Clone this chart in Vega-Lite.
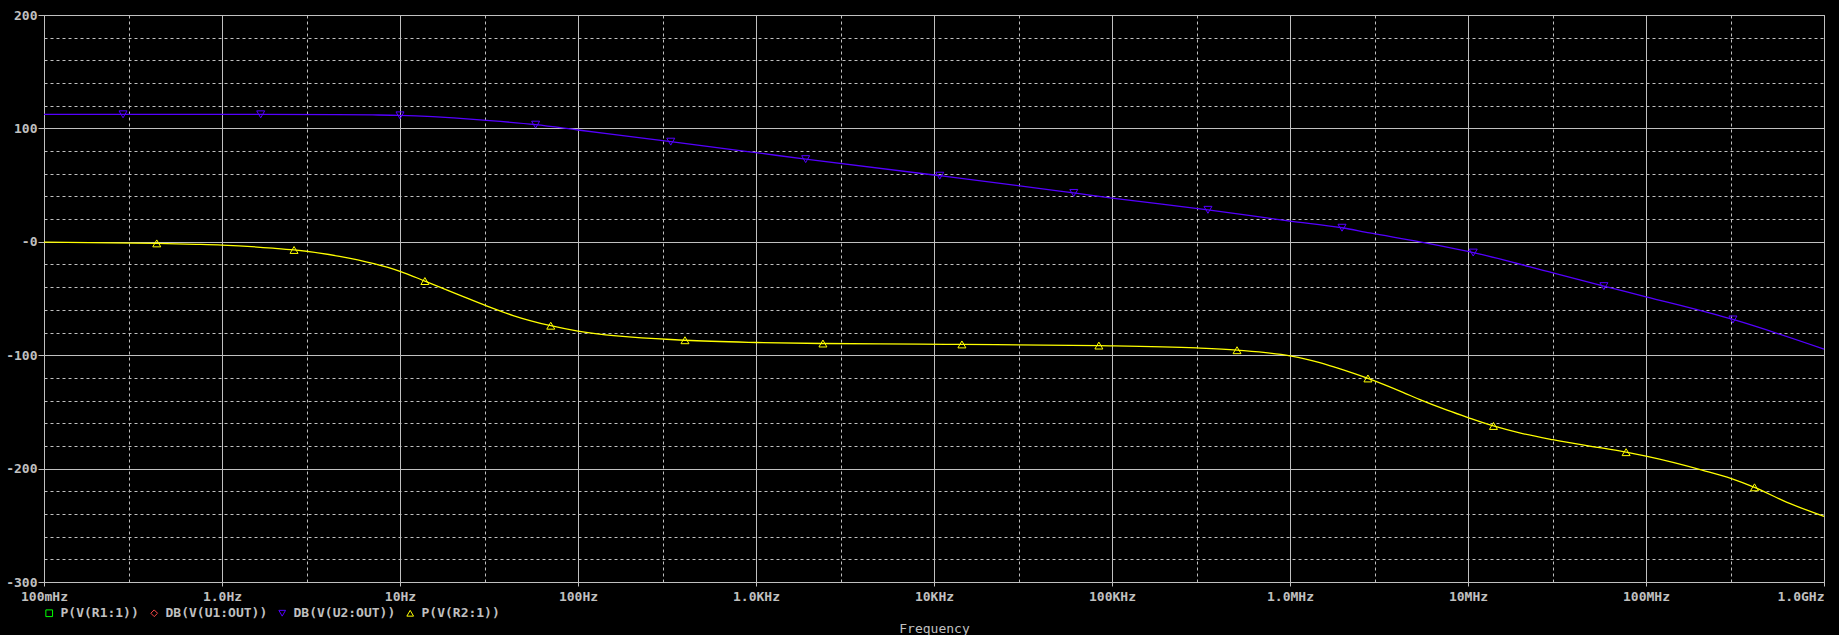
{
  "$schema": "https://vega.github.io/schema/vega-lite/v6.json",
  "width": 1780,
  "height": 567,
  "autosize": {"type": "none"},
  "padding": {"left": 44, "top": 15, "right": 15, "bottom": 53},
  "background": "#000000",
  "config": {
    "view": {"stroke": "#c0c0c0", "strokeWidth": 1, "fill": "#000000"},
    "font": "DejaVu Sans Mono",
    "legend": {
      "orient": "none",
      "legendX": -1.3,
      "legendY": 591.5,
      "direction": "horizontal",
      "title": null,
      "padding": 0,
      "labelFont": "DejaVu Sans Mono",
      "labelFontSize": 13,
      "labelFontWeight": "bold",
      "labelColor": "#c0c0c0",
      "labelOffset": 4.8,
      "columnPadding": 8,
      "symbolSize": 45,
      "symbolStrokeWidth": 1
    }
  },
  "datasets": {
    "curves": [
      {"series": "DB(V(U2:OUT))", "freq": 0.1, "value": 112.4},
      {"series": "DB(V(U2:OUT))", "freq": 0.278, "value": 112.4},
      {"series": "DB(V(U2:OUT))", "freq": 1, "value": 112.4},
      {"series": "DB(V(U2:OUT))", "freq": 1.65, "value": 112.4},
      {"series": "DB(V(U2:OUT))", "freq": 4.4, "value": 112.2},
      {"series": "DB(V(U2:OUT))", "freq": 7, "value": 111.9},
      {"series": "DB(V(U2:OUT))", "freq": 10, "value": 111.5},
      {"series": "DB(V(U2:OUT))", "freq": 15.3, "value": 110.3},
      {"series": "DB(V(U2:OUT))", "freq": 20, "value": 109.2},
      {"series": "DB(V(U2:OUT))", "freq": 30.6, "value": 107.1},
      {"series": "DB(V(U2:OUT))", "freq": 57.8, "value": 103.3},
      {"series": "DB(V(U2:OUT))", "freq": 100, "value": 98.6},
      {"series": "DB(V(U2:OUT))", "freq": 332, "value": 88.3},
      {"series": "DB(V(U2:OUT))", "freq": 1000, "value": 78.6},
      {"series": "DB(V(U2:OUT))", "freq": 1901, "value": 72.9},
      {"series": "DB(V(U2:OUT))", "freq": 10000, "value": 58.9},
      {"series": "DB(V(U2:OUT))", "freq": 10770, "value": 58.3},
      {"series": "DB(V(U2:OUT))", "freq": 61000, "value": 43.1},
      {"series": "DB(V(U2:OUT))", "freq": 100000, "value": 38.6},
      {"series": "DB(V(U2:OUT))", "freq": 346000, "value": 28.2},
      {"series": "DB(V(U2:OUT))", "freq": 1000000, "value": 18.3},
      {"series": "DB(V(U2:OUT))", "freq": 1960000, "value": 12.4},
      {"series": "DB(V(U2:OUT))", "freq": 2800000, "value": 7.8},
      {"series": "DB(V(U2:OUT))", "freq": 5370000, "value": 0},
      {"series": "DB(V(U2:OUT))", "freq": 10000000, "value": -8.5},
      {"series": "DB(V(U2:OUT))", "freq": 10700000, "value": -9.5},
      {"series": "DB(V(U2:OUT))", "freq": 30000000, "value": -27.4},
      {"series": "DB(V(U2:OUT))", "freq": 58000000, "value": -39.1},
      {"series": "DB(V(U2:OUT))", "freq": 100000000, "value": -48.5},
      {"series": "DB(V(U2:OUT))", "freq": 308000000, "value": -68.5},
      {"series": "DB(V(U2:OUT))", "freq": 1000000000, "value": -94.7},
      {"series": "P(V(R2:1))", "freq": 0.1, "value": -0.3},
      {"series": "P(V(R2:1))", "freq": 0.43, "value": -1.4},
      {"series": "P(V(R2:1))", "freq": 0.718, "value": -2.2},
      {"series": "P(V(R2:1))", "freq": 1, "value": -2.9},
      {"series": "P(V(R2:1))", "freq": 1.93, "value": -5.6},
      {"series": "P(V(R2:1))", "freq": 2.54, "value": -7.2},
      {"series": "P(V(R2:1))", "freq": 4.58, "value": -12.9},
      {"series": "P(V(R2:1))", "freq": 10, "value": -26},
      {"series": "P(V(R2:1))", "freq": 13.8, "value": -34.6},
      {"series": "P(V(R2:1))", "freq": 21.6, "value": -47},
      {"series": "P(V(R2:1))", "freq": 30.6, "value": -56.5},
      {"series": "P(V(R2:1))", "freq": 43.2, "value": -65},
      {"series": "P(V(R2:1))", "freq": 70.3, "value": -74},
      {"series": "P(V(R2:1))", "freq": 100, "value": -78.8},
      {"series": "P(V(R2:1))", "freq": 399, "value": -86.8},
      {"series": "P(V(R2:1))", "freq": 1000, "value": -88.8},
      {"series": "P(V(R2:1))", "freq": 2377, "value": -89.7},
      {"series": "P(V(R2:1))", "freq": 8300, "value": -90.2},
      {"series": "P(V(R2:1))", "freq": 14350, "value": -90.5},
      {"series": "P(V(R2:1))", "freq": 84400, "value": -91.5},
      {"series": "P(V(R2:1))", "freq": 299000, "value": -93.6},
      {"series": "P(V(R2:1))", "freq": 504000, "value": -95.6},
      {"series": "P(V(R2:1))", "freq": 1000000, "value": -100.6},
      {"series": "P(V(R2:1))", "freq": 1470000, "value": -106.5},
      {"series": "P(V(R2:1))", "freq": 1820000, "value": -111},
      {"series": "P(V(R2:1))", "freq": 2740000, "value": -120.5},
      {"series": "P(V(R2:1))", "freq": 4310000, "value": -132.8},
      {"series": "P(V(R2:1))", "freq": 5370000, "value": -139.2},
      {"series": "P(V(R2:1))", "freq": 7630000, "value": -148.5},
      {"series": "P(V(R2:1))", "freq": 10000000, "value": -155},
      {"series": "P(V(R2:1))", "freq": 13900000, "value": -162.4},
      {"series": "P(V(R2:1))", "freq": 19500000, "value": -168.5},
      {"series": "P(V(R2:1))", "freq": 30000000, "value": -174.5},
      {"series": "P(V(R2:1))", "freq": 57300000, "value": -182},
      {"series": "P(V(R2:1))", "freq": 77300000, "value": -185.5},
      {"series": "P(V(R2:1))", "freq": 100000000, "value": -189},
      {"series": "P(V(R2:1))", "freq": 209000000, "value": -201.5},
      {"series": "P(V(R2:1))", "freq": 302000000, "value": -208.8},
      {"series": "P(V(R2:1))", "freq": 407000000, "value": -216.5},
      {"series": "P(V(R2:1))", "freq": 615000000, "value": -229.5},
      {"series": "P(V(R2:1))", "freq": 1000000000, "value": -242.1}
    ],
    "markers": [
      {"series": "DB(V(U2:OUT))", "freq": 0.278, "value": 112.4},
      {"series": "DB(V(U2:OUT))", "freq": 1.65, "value": 112.4},
      {"series": "DB(V(U2:OUT))", "freq": 10, "value": 111.5},
      {"series": "DB(V(U2:OUT))", "freq": 57.8, "value": 103.3},
      {"series": "DB(V(U2:OUT))", "freq": 332, "value": 88.3},
      {"series": "DB(V(U2:OUT))", "freq": 1901, "value": 72.9},
      {"series": "DB(V(U2:OUT))", "freq": 10770, "value": 58.3},
      {"series": "DB(V(U2:OUT))", "freq": 61000, "value": 43.1},
      {"series": "DB(V(U2:OUT))", "freq": 346000, "value": 28.2},
      {"series": "DB(V(U2:OUT))", "freq": 1960000, "value": 12.4},
      {"series": "DB(V(U2:OUT))", "freq": 10700000, "value": -9.5},
      {"series": "DB(V(U2:OUT))", "freq": 58000000, "value": -39.1},
      {"series": "DB(V(U2:OUT))", "freq": 308000000, "value": -68.5},
      {"series": "P(V(R2:1))", "freq": 0.43, "value": -1.4},
      {"series": "P(V(R2:1))", "freq": 2.54, "value": -7.2},
      {"series": "P(V(R2:1))", "freq": 13.8, "value": -34.6},
      {"series": "P(V(R2:1))", "freq": 70.3, "value": -74},
      {"series": "P(V(R2:1))", "freq": 399, "value": -86.8},
      {"series": "P(V(R2:1))", "freq": 2377, "value": -89.7},
      {"series": "P(V(R2:1))", "freq": 14350, "value": -90.5},
      {"series": "P(V(R2:1))", "freq": 84400, "value": -91.5},
      {"series": "P(V(R2:1))", "freq": 504000, "value": -95.6},
      {"series": "P(V(R2:1))", "freq": 2740000, "value": -120.5},
      {"series": "P(V(R2:1))", "freq": 13900000, "value": -162.4},
      {"series": "P(V(R2:1))", "freq": 77300000, "value": -185.5},
      {"series": "P(V(R2:1))", "freq": 407000000, "value": -216.5}
    ]
  },
  "encoding": {
    "x": {
      "field": "freq",
      "type": "quantitative",
      "title": "Frequency",
      "scale": {"type": "log", "domain": [0.1, 1000000000], "nice": false},
      "axis": {
        "values": [0.1, 0.3, 1, 3, 10, 30, 100, 300, 1000, 3000, 10000, 30000, 100000, 300000, 1000000, 3000000, 10000000, 30000000, 100000000, 300000000, 1000000000],
        "labelExpr": "abs(log(datum.value)/LN10 - round(log(datum.value)/LN10)) < 0.01 ? ['100mHz','1.0Hz','10Hz','100Hz','1.0KHz','10KHz','100KHz','1.0MHz','10MHz','100MHz','1.0GHz'][round(log(datum.value)/LN10)+1] : ''",
        "labelOverlap": false,
        "labelFlush": false,
        "labelAlign": {"condition": {"test": "datum.value >= 999999999", "value": "right"}, "value": "center"},
        "labelFont": "DejaVu Sans Mono",
        "labelFontSize": 13,
        "labelFontWeight": "bold",
        "labelColor": "#c0c0c0",
        "labelPadding": 4,
        "labelBaseline": "top",
        "domain": false,
        "grid": true,
        "gridColor": "#c0c0c0",
        "gridWidth": 1,
        "gridOpacity": 1,
        "gridDash": {"condition": {"test": "abs(log(datum.value)/LN10 - round(log(datum.value)/LN10)) < 0.01", "value": []}, "value": [3, 3]},
        "ticks": true,
        "tickSize": 4,
        "tickColor": "#c0c0c0",
        "tickOpacity": {"condition": {"test": "abs(log(datum.value)/LN10 - round(log(datum.value)/LN10)) < 0.01", "value": 1}, "value": 0},
        "titleFont": "DejaVu Sans Mono",
        "titleFontSize": 13,
        "titleFontWeight": "normal",
        "titleColor": "#c0c0c0",
        "titleBaseline": "alphabetic",
        "titleY": 50
      }
    },
    "y": {
      "field": "value",
      "type": "quantitative",
      "title": null,
      "scale": {"domain": [-300, 200], "nice": false, "zero": false},
      "axis": {
        "values": [-300, -280, -260, -240, -220, -200, -180, -160, -140, -120, -100, -80, -60, -40, -20, 0, 20, 40, 60, 80, 100, 120, 140, 160, 180, 200],
        "labelExpr": "datum.value % 100 === 0 ? (datum.value === 0 ? '-0' : '' + datum.value) : ''",
        "labelOverlap": false,
        "labelFont": "DejaVu Sans Mono",
        "labelFontSize": 13,
        "labelFontWeight": "bold",
        "labelColor": "#c0c0c0",
        "labelPadding": 1,
        "domain": false,
        "grid": true,
        "gridColor": "#c0c0c0",
        "gridWidth": 1,
        "gridOpacity": 1,
        "gridDash": {"condition": {"test": "datum.value % 100 === 0", "value": []}, "value": [3, 3]},
        "ticks": true,
        "tickSize": 6,
        "tickColor": "#c0c0c0",
        "tickOpacity": {"condition": {"test": "datum.value % 100 === 0", "value": 1}, "value": 0}
      }
    }
  },
  "layer": [
    {
      "data": {"name": "curves"},
      "mark": {"type": "line", "strokeWidth": 1.3, "interpolate": "monotone"},
      "encoding": {
        "stroke": {
          "field": "series",
          "type": "nominal",
          "scale": {"domain": ["DB(V(U2:OUT))", "P(V(R2:1))"], "range": ["#5500ff", "#ffff00"]},
          "legend": null
        },
        "detail": {"field": "series"}
      }
    },
    {
      "data": {"name": "markers"},
      "mark": {"type": "point", "filled": false, "size": 64, "strokeWidth": 1, "opacity": 1},
      "encoding": {
        "color": {
          "field": "series",
          "type": "nominal",
          "scale": {"domain": ["P(V(R1:1))", "DB(V(U1:OUT))", "DB(V(U2:OUT))", "P(V(R2:1))"], "range": ["#00ff00", "#ff4848", "#5500ff", "#ffff00"]},
          "legend": {"title": null}
        },
        "shape": {
          "field": "series",
          "type": "nominal",
          "scale": {"domain": ["P(V(R1:1))", "DB(V(U1:OUT))", "DB(V(U2:OUT))", "P(V(R2:1))"], "range": ["square", "diamond", "triangle-down", "triangle-up"]},
          "legend": {"title": null}
        }
      }
    }
  ]
}
